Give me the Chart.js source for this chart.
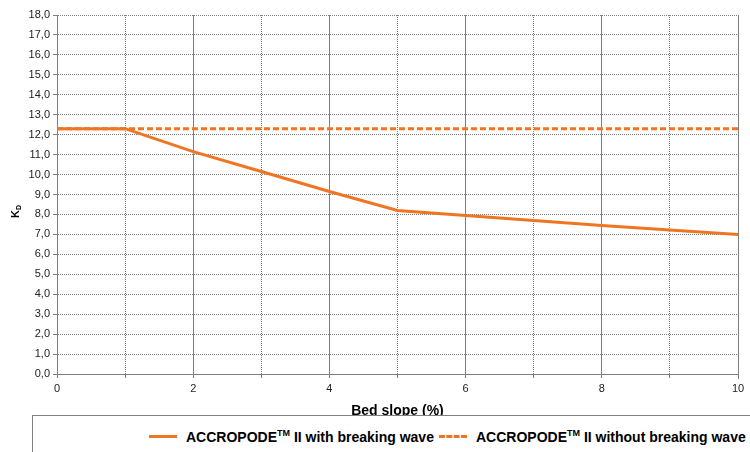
<!DOCTYPE html>
<html>
<head>
<meta charset="utf-8">
<script src="https://cdn.jsdelivr.net/npm/chart.js@4/dist/chart.umd.min.js"></script>
<style>
  html, body { margin: 0; padding: 0; background: #fff; overflow: hidden; }
  #wrap { position: relative; width: 750px; height: 452px; }
  #legend {
    position: absolute; left: 32px; top: 415px; width: 760px; height: 60px;
    border: 1px solid #808080; background: #fff;
    font-family: "Liberation Sans", Arial, sans-serif;
    font-weight: bold; font-size: 14px; color: #000; white-space: nowrap;
  }
  .item { position: absolute; top: 12px; }
  .swatch { display: inline-block; width: 28px; height: 0; vertical-align: middle; margin-right: 9px; position: relative; top: -1px; }
  sup { font-size: 9px; }
</style>
</head>
<body>
<div id="wrap">
  <canvas id="chart" width="750" height="452"></canvas>
  <div id="legend">
    <span class="item" style="left:116px"><span class="swatch" style="border-top:3px solid #F07523"></span>ACCROPODE<sup>TM</sup> II with breaking wave</span>
    <span class="item" style="left:406px"><span class="swatch" style="border-top:3px dashed #F07523"></span>ACCROPODE<sup>TM</sup> II without breaking wave</span>
  </div>
</div>
<script>
const slopes = [0, 1, 2, 3, 4, 5, 6, 7, 8, 9, 10];
const withBreaking = [12.3, 12.3, 11.15, 10.15, 9.15, 8.2, 7.95, 7.7, 7.45, 7.22, 7.0];
const withoutBreaking = [12.3, 12.3, 12.3, 12.3, 12.3, 12.3, 12.3, 12.3, 12.3, 12.3, 12.3];
const seriesNames = ['ACCROPODE\u2122 II with breaking wave', 'ACCROPODE\u2122 II without breaking wave'];
const xTitle = 'Bed slope (%)';

const orange = '#F07523';
const gridGray = '#7f7f7f';

// y axis title K with subscript D, plus solid right frame line
const extras = {
  id: 'extras',
  afterDraw(chart) {
    const { ctx, chartArea } = chart;
    ctx.save();
    ctx.strokeStyle = gridGray;
    ctx.lineWidth = 1;
    ctx.beginPath();
    ctx.moveTo(chartArea.right + 0.5, chartArea.top);
    ctx.lineTo(chartArea.right + 0.5, chartArea.bottom + 5);
    ctx.stroke();
    ctx.translate(16, 212);
    ctx.rotate(-Math.PI / 2);
    ctx.fillStyle = '#000';
    ctx.textBaseline = 'middle';
    ctx.font = 'bold 11px "Liberation Sans", Arial, sans-serif';
    const kw = ctx.measureText('K').width;
    ctx.fillText('K', -6, 0);
    ctx.font = 'bold 7px "Liberation Sans", Arial, sans-serif';
    ctx.fillText('D', -6 + kw, 3);
    ctx.restore();
  }
};

new Chart(document.getElementById('chart'), {
  type: 'line',
  data: {
    datasets: [
      {
        label: seriesNames[0],
        data: slopes.map((x, i) => ({ x, y: withBreaking[i] })),
        borderColor: orange,
        borderWidth: 3,
        pointRadius: 0,
        tension: 0
      },
      {
        label: seriesNames[1],
        data: slopes.map((x, i) => ({ x, y: withoutBreaking[i] })),
        borderColor: orange,
        borderWidth: 3,
        borderDash: [6, 3],
        pointRadius: 0,
        tension: 0
      }
    ]
  },
  options: {
    responsive: false,
    animation: false,
    layout: { padding: { top: 15, right: 12, bottom: 32, left: 0 } },
    plugins: { legend: { display: false }, tooltip: { enabled: false } },
    scales: {
      x: {
        type: 'linear',
        min: 0, max: 10,
        afterFit: s => { s.height = 46; },
        ticks: {
          stepSize: 1,
          autoSkip: false,
          maxRotation: 0,
          padding: 4,
          color: '#222',
          font: { family: '"Liberation Sans", Arial, sans-serif', size: 11 },
          callback: v => (v % 2 === 0 ? String(v) : '')
        },
        grid: {
          color: gridGray,
          lineWidth: 1,
          tickLength: 4
        },
        border: {
          color: gridGray,
          dash: ctx => (ctx.tick && ctx.tick.value % 2 === 0 ? [] : [1, 1])
        },
        title: {
          display: true,
          text: xTitle,
          color: '#000',
          padding: { top: 2, bottom: 0 },
          font: { family: '"Liberation Sans", Arial, sans-serif', size: 14, weight: 'bold' }
        }
      },
      y: {
        min: 0, max: 18,
        afterFit: s => { s.width = 57; },
        ticks: {
          stepSize: 1,
          padding: 3,
          color: '#222',
          font: { family: '"Liberation Sans", Arial, sans-serif', size: 11 },
          callback: v => v.toFixed(1).replace('.', ',')
        },
        grid: {
          color: gridGray,
          lineWidth: 1,
          tickLength: 4
        },
        border: { color: gridGray, dash: [1, 1] }
      }
    }
  },
  plugins: [extras]
});
</script>
</body>
</html>
